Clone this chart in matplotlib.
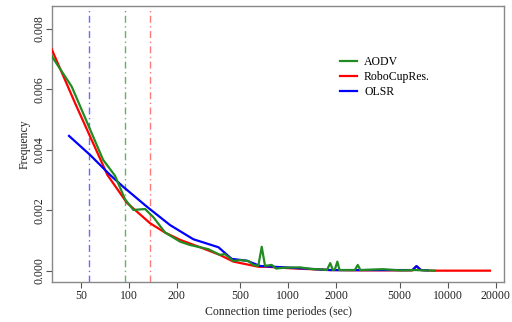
import numpy as np
import matplotlib
matplotlib.use("Agg")
import matplotlib.pyplot as plt
from matplotlib.ticker import FixedLocator, NullLocator

plt.rcParams["font.family"] = ["Liberation Serif", "DejaVu Serif"]

# connection duration (sec) vs. frequency for each routing setup
robo_x = [30, 46, 73.4, 97.2, 136, 169, 210, 280, 373, 453, 649, 733, 1026, 1828,
          3000, 6000, 6370, 6800, 8000, 18400]
robo_y = [0.00781, 0.00555, 0.00317, 0.00225, 0.00157, 0.00126, 0.00102, 0.000775,
          0.00052, 0.0003, 0.00013, 0.00013, 0.00008, 0.00002,
          0.00001, 0.00001, 0.00015, 0.00002, 0.0, 0.0]

olsr_x = [42.2, 57.2, 76.3, 92.1, 129.7, 181.4, 254, 365, 442, 550, 666, 1186, 1828,
          3000, 6000, 6370, 6800, 7500]
olsr_y = [0.00446, 0.00383, 0.00317, 0.00278, 0.00212, 0.00151, 0.00104, 0.000775,
          0.00039, 0.00033, 0.000155, 0.00008, 0.00002,
          0.00002, 0.00002, 0.00015, 0.00002, 0.00001]

aodv_x = [30, 43.9, 69.0, 82.0, 94.8, 106.9, 126.6, 142.6, 169, 210, 242, 280, 316,
          373, 400, 453, 500, 562, 604, 649, 682, 715, 788, 838, 955, 1186, 1371,
          1629, 1748, 1833, 1906, 1960, 2032, 2097, 2441, 2615, 2729, 2833, 3912,
          5024, 6237, 8320]
aodv_y = [0.00742, 0.00609, 0.00367, 0.00314, 0.00236, 0.00201, 0.00204, 0.00177,
          0.00126, 0.00096, 0.00085, 0.000775, 0.00071, 0.00052, 0.00055, 0.00032,
          0.00035, 0.00032, 0.00019, 0.00016, 0.00079, 0.00016, 0.00019, 0.00007,
          0.0001, 0.00011, 0.00006, 0.00004, 0.00002, 0.00025, 0.00002, 0.00004,
          0.0003, 0.00002, 0.00002, 0.00002, 0.00019, 0.00002, 0.00005, 0.00001,
          0.00002, 0.0]

# median markers per series
vlines = {"blue": 56.6, "green": 94.4, "red": 136}

xticks = [50, 100, 200, 500, 1000, 2000, 5000, 10000, 20000]
yticks = [0.000, 0.002, 0.004, 0.006, 0.008]

red = "#ff0000"
blue = "#0000ff"
green = "#228b22"

fig = plt.figure(figsize=(5.12, 3.22), dpi=100)
ax = fig.add_axes([52 / 512, 40 / 322, 452 / 512, 276 / 322])

ax.plot(robo_x, robo_y, color=red, lw=1.6, label="RoboCupRes.", zorder=3)
ax.plot(olsr_x, olsr_y, color=blue, lw=1.6, label="OLSR", zorder=3)
ax.plot(aodv_x, aodv_y, color=green, lw=1.6, label="AODV", zorder=4)

vcol = {"blue": "#6a6aff", "green": "#6aae6a", "red": "#ff7a7a"}
for k, xv in vlines.items():
    ax.axvline(xv, ymax=0.995, color=vcol[k], lw=1.0, ls=(0, (5, 2.5, 1, 2.5)), zorder=2)

ax.set_xscale("log")
ax.set_xlim(33.0, 22540)
ax.set_ylim(-0.000375, 0.00876)
ax.xaxis.set_major_locator(FixedLocator(xticks))
ax.xaxis.set_minor_locator(NullLocator())
ax.set_xticklabels([str(t) for t in xticks])
ax.set_yticks(yticks)
ax.set_yticklabels([f"{t:.3f}" for t in yticks], rotation=90, va="center")

for s in ax.spines.values():
    s.set_color("#888888")
    s.set_linewidth(1.0)
ax.tick_params(length=4, width=0.8, color="#555555", labelsize=8.5,
               labelcolor="#222222")
ax.tick_params(axis="x", pad=2)
ax.tick_params(axis="y", pad=1)

ax.set_xlabel("Connection time periodes (sec)", fontsize=8.5, color="#222222", labelpad=3)
ax.set_ylabel("Frequency", fontsize=8.5, color="#222222", labelpad=2)

h, l = ax.get_legend_handles_labels()
order = [2, 0, 1]
ax.legend([h[i] for i in order], [l[i] for i in order], loc="upper left",
          bbox_to_anchor=(0.625, 0.84), frameon=False, fontsize=8.5,
          handlelength=1.4, handletextpad=0.6, labelspacing=0.25,
          borderpad=0)

fig.savefig("out.png", dpi=100)
